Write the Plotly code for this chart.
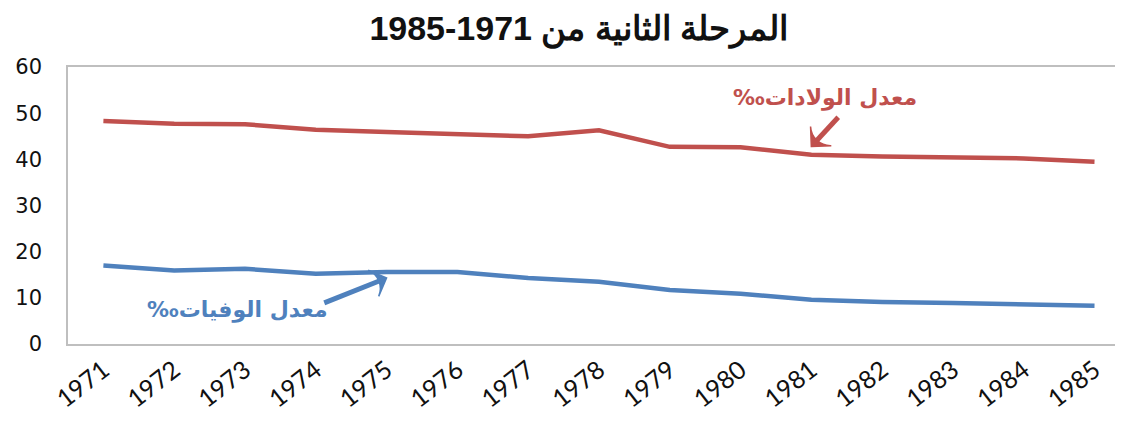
import plotly.graph_objects as go

years = ["1971", "1972", "1973", "1974", "1975", "1976", "1977", "1978",
         "1979", "1980", "1981", "1982", "1983", "1984", "1985"]
birth_rate = [48.3, 47.7, 47.6, 46.4, 45.9, 45.4, 45.0, 46.3,
              42.7, 42.6, 41.0, 40.6, 40.4, 40.2, 39.5]
death_rate = [17.0, 15.9, 16.3, 15.2, 15.6, 15.6, 14.3, 13.5,
              11.7, 10.9, 9.6, 9.1, 8.9, 8.7, 8.3]
y_ticks = [0, 10, 20, 30, 40, 50, 60]

# callout arrows (tail -> tip), in category-index / value units
birth_arrow_x = [10.38, 10.0]
birth_arrow_y = [49.1, 42.8]
death_arrow_x = [3.12, 4.0]
death_arrow_y = [8.9, 14.3]

RED = "#C0504D"
BLUE = "#4F81BD"
X_RANGE = [-0.5, 14.36]

fig = go.Figure()
fig.add_trace(go.Scatter(x=years, y=birth_rate, mode="lines",
                         line=dict(color=RED, width=4.5), showlegend=False))
fig.add_trace(go.Scatter(x=years, y=death_rate, mode="lines",
                         line=dict(color=BLUE, width=4.5), showlegend=False))

for ax_x, ax_y, col in [(birth_arrow_x, birth_arrow_y, RED),
                        (death_arrow_x, death_arrow_y, BLUE)]:
    fig.add_trace(go.Scatter(
        x=ax_x, y=ax_y, xaxis="x2", mode="lines+markers",
        line=dict(color=col, width=5),
        marker=dict(symbol=["circle", "arrow-wide"], size=[0, 20], color=col,
                    opacity=1, angleref="previous",
                    line=dict(width=1.5, color=col)),
        showlegend=False, hoverinfo="skip"))

fig.update_layout(
    width=1115, height=413,
    margin=dict(l=60, r=3, t=59, b=77),
    paper_bgcolor="white", plot_bgcolor="white",
    title=dict(text="<b>المرحلة الثانية من 1971-1985</b>",
               x=0.512, xanchor="center", y=0.952, yanchor="middle",
               font=dict(family="Liberation Sans, Arial", size=34, color="#111")),
    xaxis=dict(type="category", range=X_RANGE, automargin=False,
               showline=True, linecolor="#BFBFBF", linewidth=1.5, mirror=True,
               showgrid=False, ticks="", tickangle=-38,
               tickfont=dict(family="Lato", size=25, color="#111")),
    xaxis2=dict(type="linear", range=X_RANGE, overlaying="x", visible=False,
                automargin=False),
    yaxis=dict(range=[0, 60], tickvals=y_ticks, automargin=False,
               showline=True, linecolor="#BFBFBF", linewidth=1.5, mirror=True,
               showgrid=False, ticks="", ticklabelstandoff=20,
               tickfont=dict(family="DejaVu Sans", size=21, color="#111")),
)

fig.add_annotation(x=0.72, y=0.888, xref="paper", yref="paper",
                   xanchor="center", yanchor="middle",
                   text="<b>‰معدل الولادات</b>", showarrow=False,
                   font=dict(family="DejaVu Sans", size=22, color=RED))
fig.add_annotation(x=0.161, y=0.123, xref="paper", yref="paper",
                   xanchor="center", yanchor="middle",
                   text="<b>‰معدل الوفيات</b>", showarrow=False,
                   font=dict(family="DejaVu Sans", size=22, color=BLUE))

fig.write_html("out.html")
